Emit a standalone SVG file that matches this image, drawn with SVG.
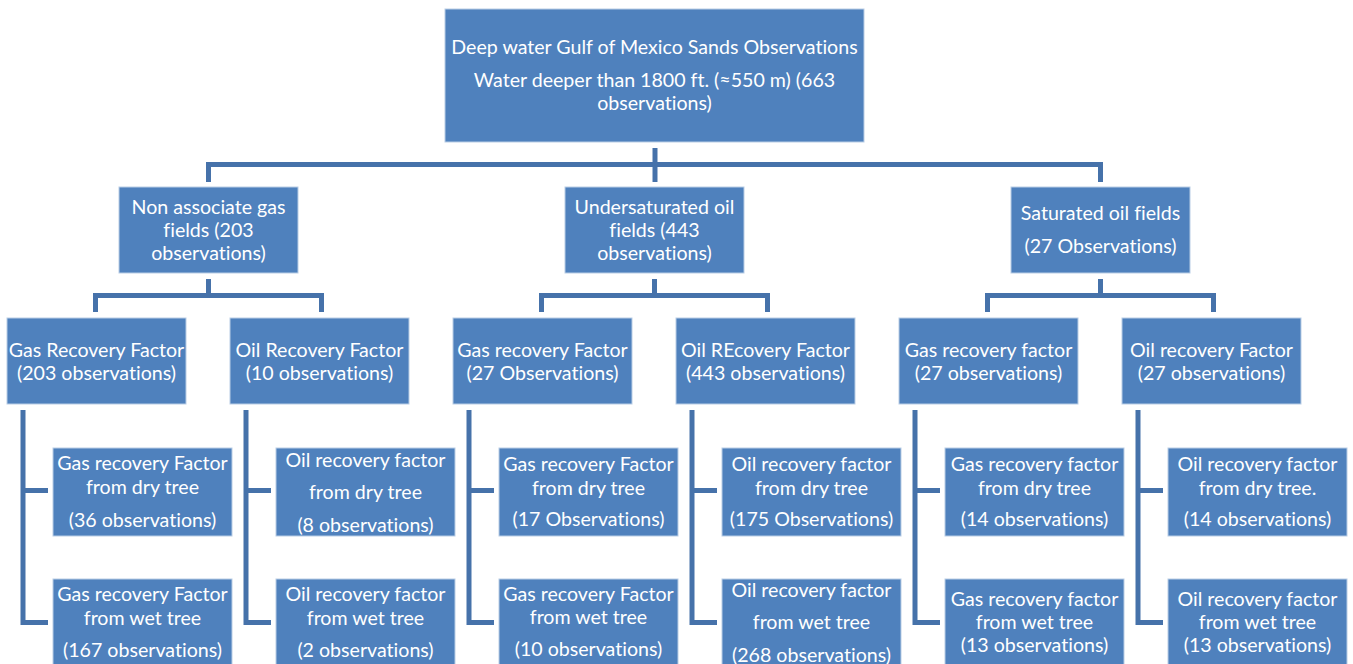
<svg xmlns="http://www.w3.org/2000/svg" width="1353" height="664" viewBox="0 0 1353 664">
<style>
.box{fill:#4F81BD;stroke:#B9CDE5;stroke-width:1}
.t{font-family:Lato,"Open Sans","Liberation Sans",sans-serif;font-size:19.6px;fill:#FFFFFF;text-anchor:middle;font-variant-ligatures:none;font-feature-settings:"liga" 0}
.c{fill:none;stroke:#4672AA;stroke-width:5}
</style>
<rect width="1353" height="664" fill="#FFFFFF"/>
<g id="connectors">
<path class="c" d="M655,148 V182"/>
<path class="c" d="M208.5,182 V164.5 H1100.5 V182"/>
<path class="c" d="M208.5,279 V296 M95.5,312 V295.5 H321.5 V312"/>
<path class="c" d="M654.5,279 V296 M541.5,312 V295.5 H767.5 V312"/>
<path class="c" d="M1100.5,279 V296 M987.5,312 V295.5 H1213.5 V312"/>
<path class="c" d="M23,410 V622.5 H48 M23,490.5 H48"/>
<path class="c" d="M246,410 V622.5 H271 M246,490.5 H271"/>
<path class="c" d="M469,410 V622.5 H494 M469,490.5 H494"/>
<path class="c" d="M692,410 V622.5 H717 M692,490.5 H717"/>
<path class="c" d="M915,410 V622.5 H940 M915,490.5 H940"/>
<path class="c" d="M1138,410 V622.5 H1163 M1138,490.5 H1163"/>
</g>
<g id="root">
<rect class="box" x="445" y="9" width="419" height="133"/>
<text class="t" x="654.5" y="53.5">Deep water Gulf of Mexico Sands Observations</text>
<text class="t" x="654.5" y="86.5">Water deeper than 1800 ft. (≈550 m) (663</text>
<text class="t" x="654.5" y="109.5">observations)</text>
</g>
<g id="nonassoc">
<rect class="box" x="119" y="187" width="179" height="86"/>
<text class="t" x="208.5" y="213.5">Non associate gas</text>
<text class="t" x="208.5" y="236.5">fields (203</text>
<text class="t" x="208.5" y="259.5">observations)</text>
</g>
<g id="undersat">
<rect class="box" x="565" y="187" width="179" height="86"/>
<text class="t" x="654.5" y="213.5">Undersaturated oil</text>
<text class="t" x="654.5" y="236.5">fields (443</text>
<text class="t" x="654.5" y="259.5">observations)</text>
</g>
<g id="sat">
<rect class="box" x="1011" y="187" width="179" height="86"/>
<text class="t" x="1100.5" y="219.5">Saturated oil fields</text>
<text class="t" x="1100.5" y="252.5">(27 Observations)</text>
</g>
<g id="na-gas">
<rect class="box" x="7" y="318" width="179" height="86"/>
<text class="t" x="96.5" y="356.5">Gas Recovery Factor</text>
<text class="t" x="96.5" y="379.5">(203 observations)</text>
</g>
<g id="na-oil">
<rect class="box" x="230" y="318" width="179" height="86"/>
<text class="t" x="319.5" y="356.5">Oil Recovery Factor</text>
<text class="t" x="319.5" y="379.5">(10 observations)</text>
</g>
<g id="us-gas">
<rect class="box" x="453" y="318" width="179" height="86"/>
<text class="t" x="542.5" y="356.5">Gas recovery Factor</text>
<text class="t" x="542.5" y="379.5">(27 Observations)</text>
</g>
<g id="us-oil">
<rect class="box" x="676" y="318" width="179" height="86"/>
<text class="t" x="765.5" y="356.5">Oil REcovery Factor</text>
<text class="t" x="765.5" y="379.5">(443 observations)</text>
</g>
<g id="s-gas">
<rect class="box" x="899" y="318" width="179" height="86"/>
<text class="t" x="988.5" y="356.5">Gas recovery factor</text>
<text class="t" x="988.5" y="379.5">(27 observations)</text>
</g>
<g id="s-oil">
<rect class="box" x="1122" y="318" width="179" height="86"/>
<text class="t" x="1211.5" y="356.5">Oil recovery Factor</text>
<text class="t" x="1211.5" y="379.5">(27 observations)</text>
</g>
<g id="na-gas-dry">
<rect class="box" x="53" y="448" width="179" height="88"/>
<text class="t" x="142.5" y="469.5">Gas recovery Factor</text>
<text class="t" x="142.5" y="493.5">from dry tree</text>
<text class="t" x="142.5" y="526.5">(36 observations)</text>
</g>
<g id="na-gas-wet">
<rect class="box" x="53" y="579" width="179" height="88"/>
<text class="t" x="142.5" y="600.5">Gas recovery Factor</text>
<text class="t" x="142.5" y="624.5">from wet tree</text>
<text class="t" x="142.5" y="656.5">(167 observations)</text>
</g>
<g id="na-oil-dry">
<rect class="box" x="276" y="448" width="179" height="88"/>
<text class="t" x="365.5" y="466.5">Oil recovery factor</text>
<text class="t" x="365.5" y="498.5">from dry tree</text>
<text class="t" x="365.5" y="531.5">(8 observations)</text>
</g>
<g id="na-oil-wet">
<rect class="box" x="276" y="579" width="179" height="88"/>
<text class="t" x="365.5" y="600.5">Oil recovery factor</text>
<text class="t" x="365.5" y="624.5">from wet tree</text>
<text class="t" x="365.5" y="656.5">(2 observations)</text>
</g>
<g id="us-gas-dry">
<rect class="box" x="499" y="448" width="179" height="88"/>
<text class="t" x="588.5" y="470.5">Gas recovery Factor</text>
<text class="t" x="588.5" y="494.5">from dry tree</text>
<text class="t" x="588.5" y="525.5">(17 Observations)</text>
</g>
<g id="us-gas-wet">
<rect class="box" x="499" y="579" width="179" height="88"/>
<text class="t" x="588.5" y="600.5">Gas recovery Factor</text>
<text class="t" x="588.5" y="623.5">from wet tree</text>
<text class="t" x="588.5" y="655.5">(10 observations)</text>
</g>
<g id="us-oil-dry">
<rect class="box" x="722" y="448" width="179" height="88"/>
<text class="t" x="811.5" y="470.5">Oil recovery factor</text>
<text class="t" x="811.5" y="494.5">from dry tree</text>
<text class="t" x="811.5" y="525.5">(175 Observations)</text>
</g>
<g id="us-oil-wet">
<rect class="box" x="722" y="579" width="179" height="88"/>
<text class="t" x="811.5" y="596.5">Oil recovery factor</text>
<text class="t" x="811.5" y="628.5">from wet tree</text>
<text class="t" x="811.5" y="661.5">(268 observations)</text>
</g>
<g id="s-gas-dry">
<rect class="box" x="945" y="448" width="179" height="88"/>
<text class="t" x="1034.5" y="470.5">Gas recovery factor</text>
<text class="t" x="1034.5" y="494.5">from dry tree</text>
<text class="t" x="1034.5" y="525.5">(14 observations)</text>
</g>
<g id="s-gas-wet">
<rect class="box" x="945" y="579" width="179" height="88"/>
<text class="t" x="1034.5" y="605.5">Gas recovery factor</text>
<text class="t" x="1034.5" y="628.5">from wet tree</text>
<text class="t" x="1034.5" y="651.5">(13 observations)</text>
</g>
<g id="s-oil-dry">
<rect class="box" x="1168" y="448" width="179" height="88"/>
<text class="t" x="1257.5" y="470.5">Oil recovery factor</text>
<text class="t" x="1257.5" y="494.5">from dry tree.</text>
<text class="t" x="1257.5" y="525.5">(14 observations)</text>
</g>
<g id="s-oil-wet">
<rect class="box" x="1168" y="579" width="179" height="88"/>
<text class="t" x="1257.5" y="605.5">Oil recovery factor</text>
<text class="t" x="1257.5" y="628.5">from wet tree</text>
<text class="t" x="1257.5" y="651.5">(13 observations)</text>
</g>
</svg>
